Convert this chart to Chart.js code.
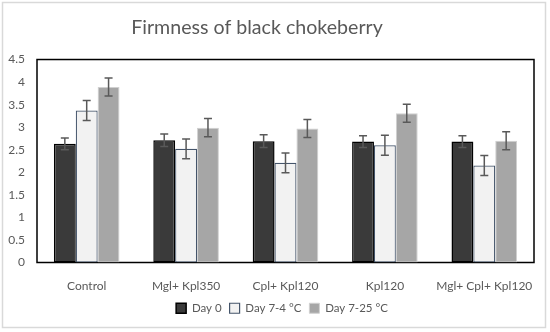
<!DOCTYPE html>
<html>
<head>
<meta charset="utf-8">
<script src="https://cdn.jsdelivr.net/npm/chart.js@4/dist/chart.umd.min.js"></script>
<style>
html,body{margin:0;padding:0;background:#fff;}
#wrap{position:relative;width:550px;height:332px;}
</style>
</head>
<body>
<div id="wrap"><canvas id="c" width="550" height="332"></canvas></div>
<script>
const categories = ["Control", "Mgl+ Kpl350", "Cpl+ Kpl120", "Kpl120", "Mgl+ Cpl+ Kpl120"];
const seriesNames = ["Day 0", "Day 7-4 °C", "Day 7-25 °C"];
const day0 = [2.63, 2.71, 2.69, 2.68, 2.68];
const day7cold = [3.37, 2.52, 2.21, 2.60, 2.15];
const day7warm = [3.89, 2.99, 2.97, 3.31, 2.70];
const err0 = [0.13, 0.14, 0.14, 0.13, 0.13];
const errCold = [0.22, 0.22, 0.22, 0.22, 0.22];
const errWarm = [0.20, 0.20, 0.20, 0.20, 0.20];
const yTicks = [0, 0.5, 1, 1.5, 2, 2.5, 3, 3.5, 4, 4.5];

const errors = [err0, errCold, errWarm];

const framePlugin = {
  id: 'frame',
  afterLayout(chart) {
    if (chart.titleBlock) { chart.titleBlock.right -= 20; }
    if (chart.legend) { chart.legend.left += 30; }
  },
  beforeDraw(chart) {
    const ctx = chart.ctx;
    ctx.save();
    ctx.fillStyle = '#ffffff';
    ctx.fillRect(0, 0, chart.width, chart.height);
    ctx.strokeStyle = '#d9d9d9';
    ctx.lineWidth = 1.5;
    ctx.strokeRect(2.5, 2.5, 543, 325);
    ctx.restore();
  },
  beforeDatasetsDraw(chart) {
    const a = chart.chartArea;
    const ctx = chart.ctx;
    ctx.save();
    ctx.strokeStyle = '#000000';
    ctx.lineWidth = 1.5;
    ctx.strokeRect(a.left, a.top, a.right - a.left, a.bottom - a.top);
    ctx.restore();
  }
};

const errorPlugin = {
  id: 'errbars',
  afterDatasetsDraw(chart) {
    const ctx = chart.ctx;
    const ys = chart.scales.y;
    ctx.save();
    ctx.strokeStyle = '#595959';
    ctx.lineWidth = 1.5;
    chart.data.datasets.forEach((ds, di) => {
      const meta = chart.getDatasetMeta(di);
      meta.data.forEach((bar, i) => {
        const v = ds.data[i];
        const e = errors[di][i];
        const x = bar.x;
        const y1 = ys.getPixelForValue(v + e);
        const y2 = ys.getPixelForValue(v - e);
        ctx.beginPath();
        ctx.moveTo(x, y1); ctx.lineTo(x, y2);
        ctx.moveTo(x - 4, y1); ctx.lineTo(x + 4, y1);
        ctx.moveTo(x - 4, y2); ctx.lineTo(x + 4, y2);
        ctx.stroke();
      });
    });
    ctx.restore();
  }
};

const font = 'Lato, "Open Sans", sans-serif';

new Chart(document.getElementById('c'), {
  type: 'bar',
  data: {
    labels: categories,
    datasets: [
      { label: seriesNames[0], data: day0, backgroundColor: '#3a3a3a', borderColor: '#000000', borderWidth: 1.5, borderSkipped: false },
      { label: seriesNames[1], data: day7cold, backgroundColor: '#f2f2f2', borderColor: '#44546a', borderWidth: 1.2, borderSkipped: false },
      { label: seriesNames[2], data: day7warm, backgroundColor: '#a6a6a6', borderColor: '#d0d0d0', borderWidth: 1, borderSkipped: false }
    ]
  },
  options: {
    responsive: false,
    animation: false,
    devicePixelRatio: 1,
    layout: { padding: { left: 0, right: 16, top: 0, bottom: 8 } },
    datasets: { bar: { categoryPercentage: 0.66, barPercentage: 1.0 } },
    plugins: {
      title: {
        display: true,
        text: 'Firmness of black chokeberry',
        color: '#595959',
        font: { family: font, size: 19.6, weight: 'normal' },
        padding: { top: 16, bottom: 20 }
      },
      legend: {
        position: 'bottom',
        labels: {
          color: '#595959',
          font: { family: font, size: 11.5 },
          boxWidth: 10,
          boxHeight: 10,
          padding: 8
        }
      },
      tooltip: { enabled: false }
    },
    scales: {
      x: {
        grid: { display: false, drawTicks: false },
        border: { display: false },
        afterFit(scale) { scale.height = 32; },
        ticks: { color: '#595959', font: { family: font, size: 12 }, padding: 16, maxRotation: 0, autoSkip: false }
      },
      y: {
        min: 0, max: 4.5,
        afterBuildTicks(scale) { scale.ticks = yTicks.map(v => ({ value: v })); },
        afterFit(scale) { scale.width = 37; },
        grid: { display: false, drawTicks: false },
        border: { display: false },
        ticks: { color: '#595959', font: { family: font, size: 12 }, padding: 12,
          callback: v => String(v) }
      }
    }
  },
  plugins: [framePlugin, errorPlugin]
});
</script>
</body>
</html>
